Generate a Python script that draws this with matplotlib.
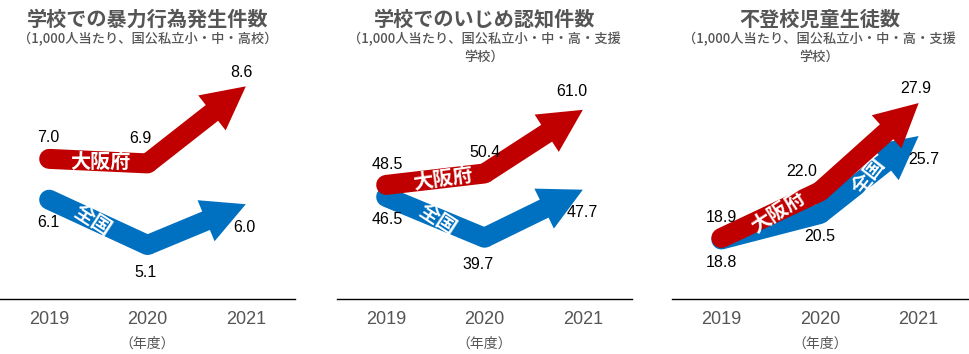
import numpy as np
import matplotlib.pyplot as plt
from matplotlib.patches import FancyArrowPatch

plt.rcParams['font.family'] = ['Noto Sans CJK JP', 'DejaVu Sans']

# data
years = ['2019', '2020', '2021']
titles = ['学校での暴力行為発生件数', '学校でのいじめ認知件数', '不登校児童生徒数']
subtitles = ['（1,000人当たり、国公私立小・中・高校）',
             '（1,000人当たり、国公私立小・中・高・支援\n学校）',
             '（1,000人当たり、国公私立小・中・高・支援\n学校）']
osaka = [[7.0, 6.9, 8.6], [48.5, 50.4, 61.0], [18.9, 22.0, 27.9]]
zenkoku = [[6.1, 5.1, 6.0], [46.5, 39.7, 47.7], [18.8, 20.5, 25.7]]

# layout (pixels)
W, H = 969, 354
lefts = [0, 337, 672]
ax_w, ax_bottom, ax_h = 295, 55, 224
ylims = [(3.91, 8.85), (29.5, 66.8), (14.83, 29.77)]
RED = '#C00000'
BLUE = '#0070C0'
GRAY = '#555555'
TAIL, HEAD_W, HEAD_L = 14.4, 32, 31   # points

# where the series names sit on the arrow (position along x, rotation)
osaka_name = [(0.52, 0), (0.58, 8), (0.57, 33)]
zenkoku_name = [(0.45, -33), (0.53, -33), (1.49, 52)]
# value label offsets in pixels
red_off = [[(-1, 21), (-7, 25), (-4, 14)], [(1, 20), (1, 21), (-11, 18)],
           [(0, 20), (-18, 20), (-3, 15)]]
blue_off = [[(-1, -23), (-2, -27), (-1, -23)], [(1, -23), (-6, -27), (-1, -23)],
            [(0, -23), (0, -23), (5, -23)]]


def draw_arrow(ax, vals, color, z):
    x = np.arange(len(vals))
    ax.plot(x[:2], vals[:2], color=color, lw=TAIL, solid_capstyle='round',
            solid_joinstyle='round', zorder=z)
    arr = FancyArrowPatch((x[1], vals[1]), (x[2], vals[2]),
                          arrowstyle=f'simple,head_length={HEAD_L},head_width={HEAD_W},tail_width={TAIL}',
                          mutation_scale=1, color=color, lw=0, shrinkA=0, shrinkB=0, zorder=z)
    ax.add_patch(arr)


def name_label(ax, vals, name, pos, z):
    t, rot = pos
    x = np.arange(len(vals))
    ax.text(t, np.interp(t, x, vals), name, rotation=rot, rotation_mode='anchor',
            ha='center', va='center', color='white', fontsize=14.5, fontweight='bold', zorder=z)


def value_labels(ax, vals, offs):
    for i, (v, o) in enumerate(zip(vals, offs)):
        ax.annotate(f'{v:.1f}', (i, v), xytext=o, textcoords='offset pixels',
                    ha='center', va='center', fontsize=11.5, color='black',
                    fontfamily='Liberation Sans', zorder=10)


fig = plt.figure(figsize=(W / 100, H / 100), dpi=100)

for k in range(3):
    ax = fig.add_axes([lefts[k] / W, ax_bottom / H, (ax_w + (k == 2)) / W, ax_h / H])
    ax.set_xlim(-0.5, 2.5)
    ax.set_ylim(*ylims[k])
    for s in ['top', 'left', 'right']:
        ax.spines[s].set_visible(False)
    ax.spines['bottom'].set_color('black')
    ax.spines['bottom'].set_linewidth(1.0)
    ax.set_yticks([])
    ax.set_xticks(range(3), years, fontfamily='Liberation Sans')
    ax.tick_params(axis='x', length=0, pad=9, labelsize=13, labelcolor=GRAY)
    ax.patch.set_alpha(0)

    draw_arrow(ax, zenkoku[k], BLUE, 2)
    name_label(ax, zenkoku[k], '全国', zenkoku_name[k], 3)
    draw_arrow(ax, osaka[k], RED, 4)
    name_label(ax, osaka[k], '大阪府', osaka_name[k], 5)

    value_labels(ax, osaka[k], red_off[k])
    value_labels(ax, zenkoku[k], blue_off[k])

    ax.text(1, -45 / ax_h, '（年度）', transform=ax.get_xaxis_transform(),
            ha='center', va='center', fontsize=10, color=GRAY)

    cx = (lefts[k] + ax_w / 2) / W
    fig.text(cx, 1 - 19 / H, titles[k], ha='center', va='center',
             fontsize=14.5, fontweight='bold', color=GRAY)
    fig.text(cx, 1 - 32 / H, subtitles[k], ha='center', va='top',
             fontsize=9.5, fontweight='medium', color=GRAY, linespacing=1.3)

fig.savefig('out.png', dpi=100)
